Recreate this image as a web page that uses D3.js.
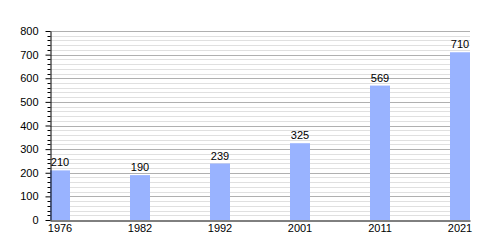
<!DOCTYPE html>
<html>
<head>
<meta charset="utf-8">
<script src="https://cdn.jsdelivr.net/npm/d3@7"></script>
<style>
  body { margin: 0; background: #fff; }
</style>
</head>
<body>
<div id="chart"></div>
<script>
const years = ["1976", "1982", "1992", "2001", "2011", "2021"];
const population = [210, 190, 239, 325, 569, 710];
const majorTicks = [0, 100, 200, 300, 400, 500, 600, 700, 800];

const width = 500;
const height = 250;
const margin = { top: 31, right: 30, bottom: 30, left: 50 };

const barColor = "#99b3ff";

const svg = d3
  .select("#chart")
  .append("svg")
  .attr("width", width)
  .attr("height", height)
  .attr("style", "font: 11px 'Liberation Sans', Arial, sans-serif;");

const x = d3
  .scaleBand()
  .domain(years)
  .range([margin.left, width - margin.right])
  .paddingInner(0.75)
  .paddingOuter(0)
  .align(0);

const y = d3
  .scaleLinear()
  .domain([0, 800])
  .range([height - margin.bottom, margin.top]);

const minorTicks = d3.range(0, 801, 20).filter((v) => v % 100 !== 0);

// minor grid
svg
  .append("g")
  .attr("stroke", "#e0e0e0")
  .attr("stroke-width", 1)
  .selectAll("line")
  .data(minorTicks)
  .join("line")
  .attr("x1", margin.left)
  .attr("x2", width - margin.right)
  .attr("y1", (d) => Math.round(y(d)) + 0.5)
  .attr("y2", (d) => Math.round(y(d)) + 0.5);

// major grid
svg
  .append("g")
  .attr("stroke", "#b0b0b0")
  .attr("stroke-width", 1)
  .selectAll("line")
  .data(majorTicks.filter((d) => d > 0))
  .join("line")
  .attr("x1", margin.left)
  .attr("x2", width - margin.right)
  .attr("y1", (d) => Math.round(y(d)) + 0.5)
  .attr("y2", (d) => Math.round(y(d)) + 0.5);

// bars
svg
  .append("g")
  .selectAll("rect")
  .data(population)
  .join("rect")
  .attr("x", (d, i) => x(years[i]))
  .attr("width", x.bandwidth())
  .attr("y", (d) => y(d))
  .attr("height", (d) => y(0) - y(d))
  .attr("fill", barColor);

// value labels
svg
  .append("g")
  .attr("text-anchor", "middle")
  .attr("fill", "#000")
  .selectAll("text")
  .data(population)
  .join("text")
  .attr("x", (d, i) => x(years[i]) + x.bandwidth() / 2)
  .attr("y", (d) => y(d) - 4)
  .text((d) => d);

// y axis
const yAxis = svg
  .append("g")
  .attr("transform", `translate(${margin.left + 0.5},0)`)
  .call(
    d3
      .axisLeft(y)
      .tickValues(majorTicks)
      .tickSize(5)
      .tickSizeOuter(0)
      .tickPadding(7)
  );
yAxis.selectAll("text").style("font", "11px 'Liberation Sans', Arial, sans-serif").attr("fill", "#000");
yAxis.selectAll("line").attr("stroke", "#000");
yAxis.select(".domain").attr("stroke", "#000");

svg
  .append("g")
  .attr("stroke", "#000")
  .selectAll("line")
  .data(minorTicks)
  .join("line")
  .attr("x1", margin.left - 2.5)
  .attr("x2", margin.left + 0.5)
  .attr("y1", (d) => Math.round(y(d)) + 0.5)
  .attr("y2", (d) => Math.round(y(d)) + 0.5);

// x axis
const xAxis = svg
  .append("g")
  .attr("transform", `translate(0,${Math.round(y(0)) + 0.5})`)
  .call(d3.axisBottom(x).tickSize(0).tickSizeOuter(0).tickPadding(4));
xAxis.selectAll("text").style("font", "11px 'Liberation Sans', Arial, sans-serif").attr("fill", "#000");
xAxis.select(".domain").attr("stroke", "#000");
</script>
</body>
</html>
